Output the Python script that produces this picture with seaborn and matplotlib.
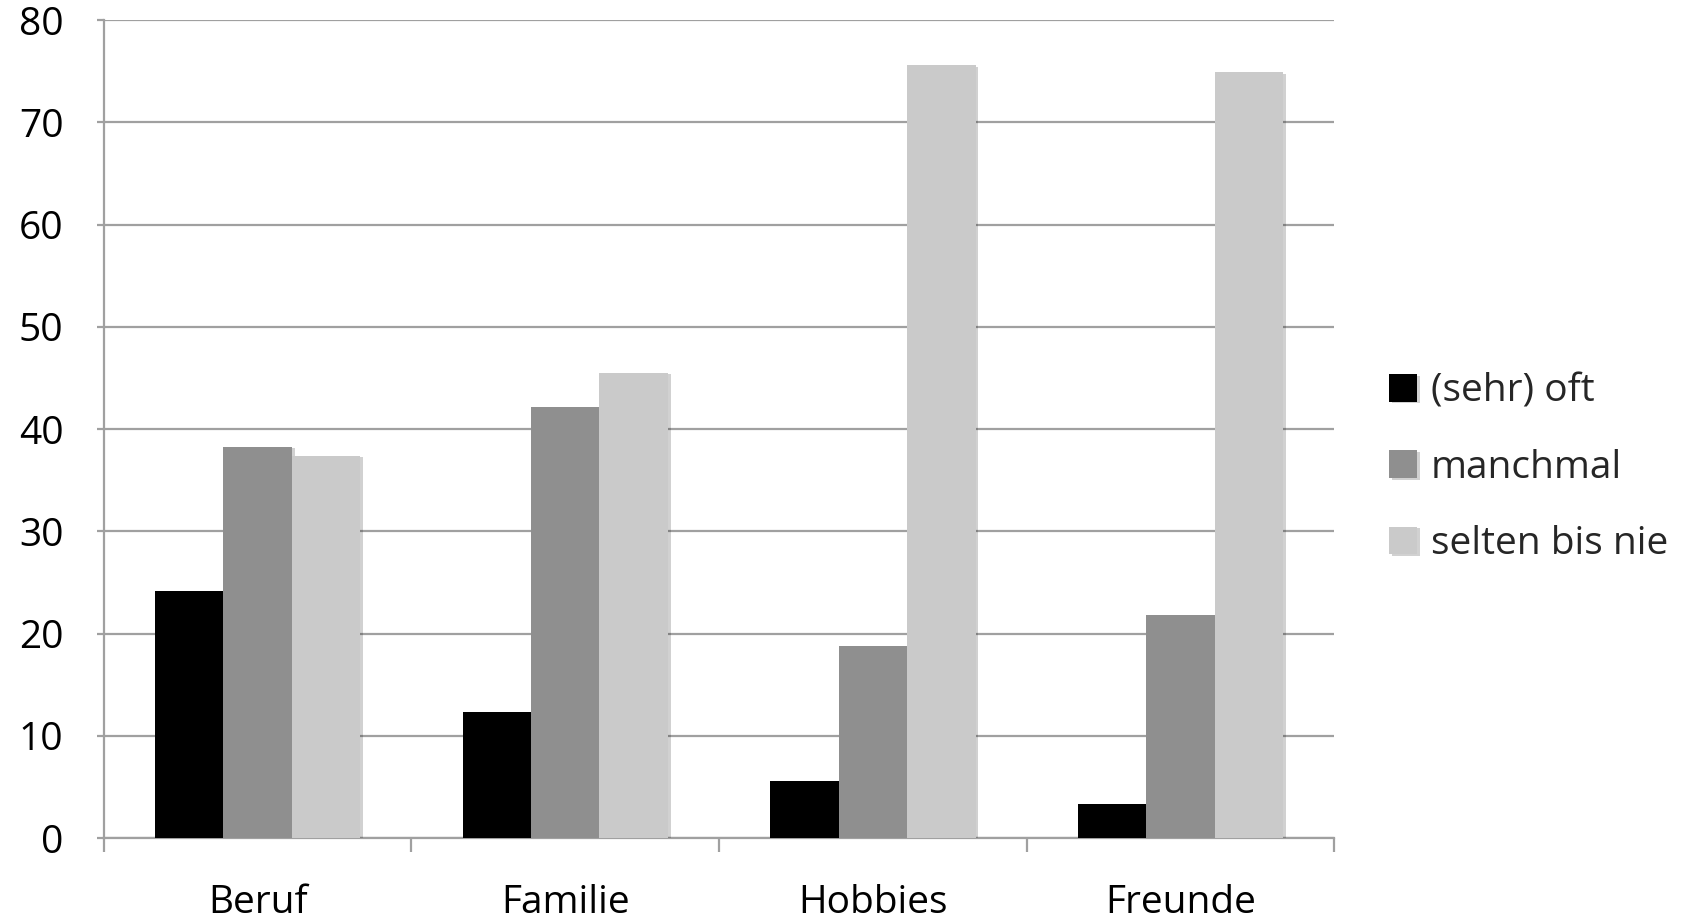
import matplotlib
matplotlib.use("Agg")
import matplotlib.pyplot as plt
import matplotlib.patheffects as pe
import seaborn as sns
import pandas as pd

# Survey answers: how often each life domain comes up (percent)
categories = ["Beruf", "Familie", "Hobbies", "Freunde"]
series_names = ["(sehr) oft", "manchmal", "selten bis nie"]
sehr_oft = [24.2, 12.3, 5.6, 3.3]
manchmal = [38.3, 42.2, 18.8, 21.8]
selten_bis_nie = [37.4, 45.5, 75.6, 74.9]
colors = ["#000000", "#8f8f8f", "#cacaca"]
y_ticks = [0, 10, 20, 30, 40, 50, 60, 70, 80]

rows = []
for name, vals in zip(series_names, [sehr_oft, manchmal, selten_bis_nie]):
    for cat, v in zip(categories, vals):
        rows.append({"Bereich": cat, "Häufigkeit": name, "Prozent": v})
df = pd.DataFrame(rows)

sns.set_theme(style="white")
plt.rcParams["font.family"] = ["Open Sans", "DejaVu Sans"]

fig = plt.figure(figsize=(17.02, 9.21), dpi=100)
ax = fig.add_axes([0.061, 0.090, 0.723, 0.888])

sns.barplot(data=df, x="Bereich", y="Prozent", hue="Häufigkeit",
            order=categories, hue_order=series_names, palette=colors,
            width=0.667, gap=0, saturation=1, errorbar=None, ax=ax,
            linewidth=0, zorder=3)

for bar in ax.patches:
    bar.set_path_effects([pe.SimplePatchShadow(offset=(2, -1), alpha=0.18,
                                               shadow_rgbFace="#000000"),
                          pe.Normal()])

grid_color = "#a0a0a0"
ax.set_ylim(0, 80)
ax.set_xlim(-0.5, 3.5)
ax.set_yticks(y_ticks)
ax.set_yticklabels([str(t) for t in y_ticks])
ax.yaxis.grid(True, color=grid_color, linewidth=1.6, zorder=0)
ax.set_axisbelow(True)

for side in ["top", "right"]:
    ax.spines[side].set_visible(False)
for side in ["left", "bottom"]:
    ax.spines[side].set_color(grid_color)
    ax.spines[side].set_linewidth(1.6)

ax.tick_params(axis="y", which="major", direction="out", length=5,
               width=1.6, color=grid_color, pad=24, labelsize=28,
               labelcolor="#000000", left=True)
ax.set_xticks([-0.5, 0.5, 1.5, 2.5, 3.5], minor=True)
ax.tick_params(axis="x", which="minor", direction="out", length=10,
               width=1.6, color=grid_color, bottom=True)
ax.tick_params(axis="x", which="major", length=0, pad=33, labelsize=28,
               labelcolor="#000000")

ax.set_xlabel("")
ax.set_ylabel("")

handles, labels = ax.get_legend_handles_labels()
ax.legend(handles, labels, loc="center left",
          bbox_to_anchor=(0.807, 0.492), bbox_transform=fig.transFigure,
          frameon=False, fontsize=28, handlelength=0.72, handleheight=0.72,
          handletextpad=0.35, labelspacing=0.98, borderaxespad=0)

fig.savefig("out.png", dpi=100, facecolor="white")
